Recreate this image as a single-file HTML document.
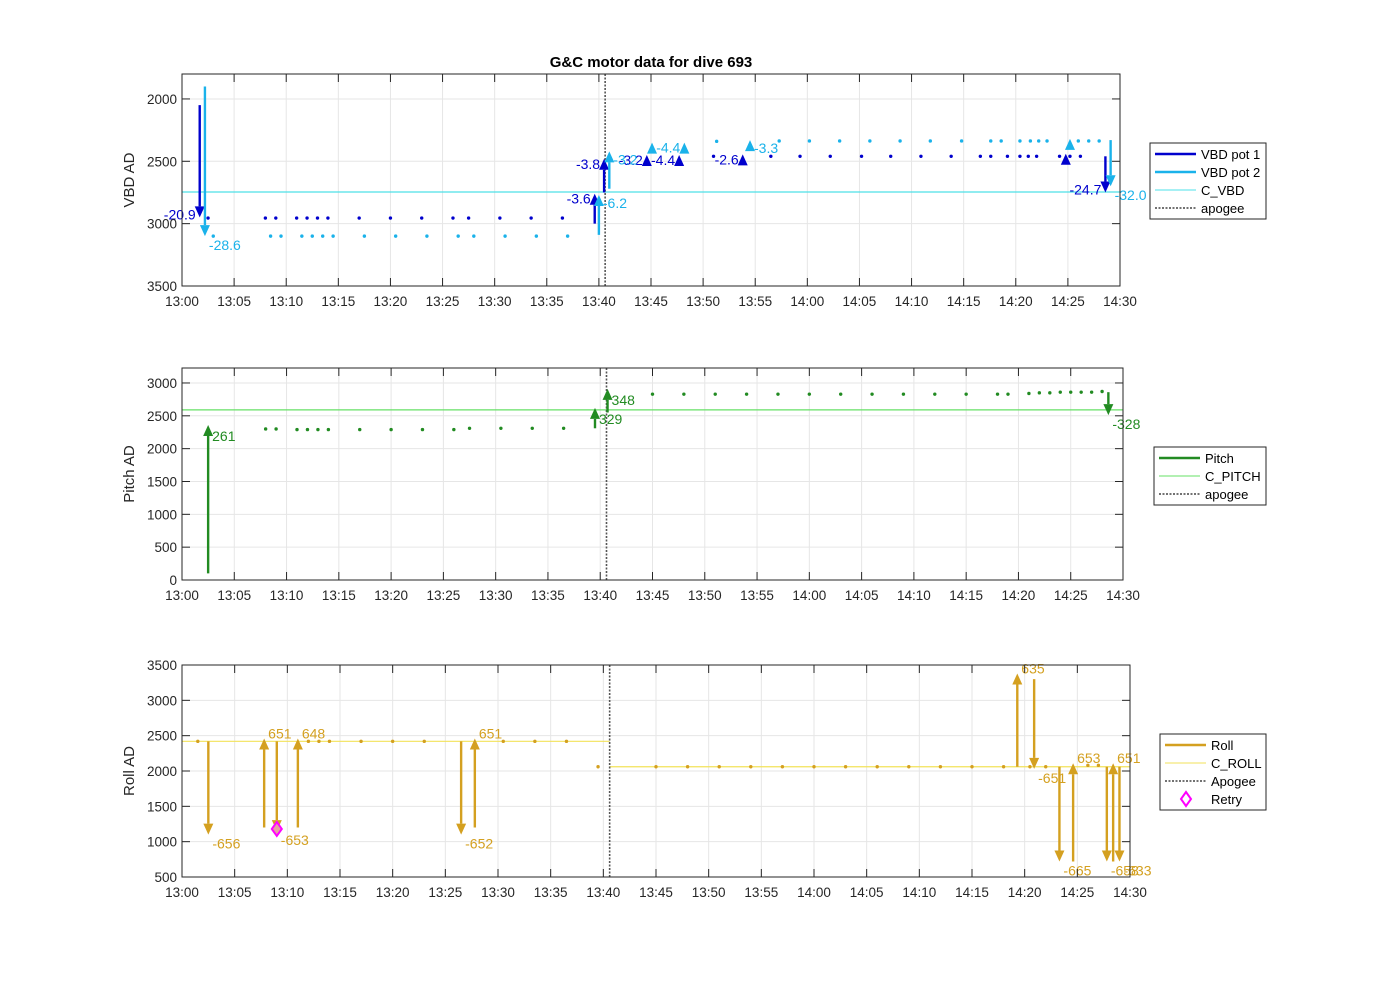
<!DOCTYPE html>
<html><head><meta charset="utf-8"><style>
body{margin:0;background:#fff;}
svg{display:block;font-family:"Liberation Sans",sans-serif;}
</style></head><body>
<svg id="chart" width="1400" height="986" viewBox="0 0 1400 986">
<rect width="1400" height="986" fill="#fff"/>
<text x="651" y="67" text-anchor="middle" font-size="15" font-weight="bold" fill="#000">G&amp;C motor data for dive 693</text>
<g id="g1"></g><g id="g2"></g><g id="g3"></g>
</svg>
<script>
// ---- data (minutes after 13:00) ----
const xTickLabels = ["13:00","13:05","13:10","13:15","13:20","13:25","13:30","13:35","13:40","13:45","13:50","13:55","14:00","14:05","14:10","14:15","14:20","14:25","14:30"];
const apogeeTime = 40.6;
// VBD panel
const vbdTicks = [2000,2500,3000,3500];
const pot1DotT = [2.5,8,9,11,12,13,14,17,20,23,26,27.5,30.5,33.5,36.5,51,56.5,59.3,62.2,65.2,68,70.9,73.8,76.6,77.6,79.2,80.4,81.2,82,84.2,85.2,86.2];
const pot1DotV = [2955,2955,2955,2955,2955,2955,2955,2955,2955,2955,2955,2955,2955,2955,2955,2460,2460,2460,2460,2460,2460,2460,2460,2460,2460,2460,2460,2460,2460,2460,2460,2460];
const pot2DotT = [3,8.5,9.5,11.5,12.5,13.5,14.5,17.5,20.5,23.5,26.5,28,31,34,37,51.3,57.3,60.2,63.1,66,68.9,71.8,74.8,77.6,78.6,80.4,81.4,82.2,83,86,87,88];
const pot2DotV = [3100,3100,3100,3100,3100,3100,3100,3100,3100,3100,3100,3100,3100,3100,3100,2340,2337,2337,2337,2337,2337,2337,2337,2337,2337,2337,2337,2337,2337,2337,2337,2337];
const pot1ArrT = [1.7,39.6,40.5,44.6,47.7,53.8,84.8,88.6];
const pot1ArrV0 = [2050,3000,2750,2470,2470,2460,2460,2460];
const pot1ArrV1 = [2950,2760,2480,2450,2450,2445,2440,2750];
const pot1Labels = ["-20.9","-3.6","-3.8","-3.2","-4.4","-2.6","","-24.7"];
const pot1Side = ["L","L","L","L","L","L","N","L"];
const pot2ArrT = [2.2,40,41,45.1,48.2,54.5,85.2,89.1];
const pot2ArrV0 = [1900,3090,2720,2360,2360,2350,2340,2330];
const pot2ArrV1 = [3100,2770,2420,2350,2350,2330,2320,2700];
const pot2Labels = ["-28.6","-6.2","-3.2","","-4.4","-3.3","","-32.0"];
const pot2Side = ["R","R","R","N","L","R","N","R"];
const cVbd = 2746;
// Pitch panel
const pitchTicks = [0,500,1000,1500,2000,2500,3000];
const pitchDotT = [8,9,11,12,13,14,17,20,23,26,27.5,30.5,33.5,36.5,45,48,51,54,57,60,63,66,69,72,75,78,79,81,82,83,84,85,86,87,88];
const pitchDotV = [2300,2300,2290,2290,2290,2290,2290,2290,2290,2290,2310,2310,2310,2310,2830,2830,2830,2830,2830,2830,2830,2830,2830,2830,2830,2830,2830,2840,2850,2850,2860,2860,2860,2860,2870];
const pitchArrT = [2.5,39.5,40.7,88.6];
const pitchArrV0 = [100,2310,2550,2860];
const pitchArrV1 = [2360,2620,2910,2510];
const pitchLabels = ["261","329","348","-328"];
const cPitch = 2590;
// Roll panel
const rollTicks = [500,1000,1500,2000,2500,3000,3500];
const rollDotT = [1.5,12,13,14,17,20,23,30.5,33.5,36.5,39.5,45,48,51,54,57,60,63,66,69,72,75,78,80.5,82,86,87];
const rollDotV = [2420,2420,2420,2420,2420,2420,2420,2420,2420,2420,2060,2060,2060,2060,2060,2060,2060,2060,2060,2060,2060,2060,2060,2060,2060,2080,2080];
const rollArrT = [2.5,7.8,9,11,26.5,27.8,79.3,80.9,83.3,84.6,87.8,88.4,89.0];
const rollArrV0 = [2420,1200,2420,1200,2420,1200,2060,3300,2060,720,2060,720,2060];
const rollArrV1 = [1100,2460,1150,2460,1100,2460,3380,2030,720,2110,720,2110,720];
const rollLabels = ["-656","651","-653","648","-652","651","635","-651","-665","653","-658","651","-633"];
const cRollBefore = 2420, cRollAfter = 2060;
const retryT = [9], retryV = [1180];

// ---- helpers ----
const NS="http://www.w3.org/2000/svg";
function mk(parent,tag,attrs){const e=document.createElementNS(NS,tag);for(const k in attrs)e.setAttribute(k,attrs[k]);parent.appendChild(e);return e;}
function panel(g,P,ticks){
  for(let i=0;i<xTickLabels.length;i++){const x=P.x(i*5);
    const l=mk(g,'line',{x1:x,x2:x,y1:P.top,y2:P.bot,stroke:'#e6e6e6','stroke-width':1});
    
    }
  ticks.forEach(v=>{const y=P.y(v);
    const l=mk(g,'line',{x1:P.left,x2:P.right,y1:y,y2:y,stroke:'#e6e6e6','stroke-width':1});
    
    });
}
function axes(g,P,ticks,ytitle,name){
  const r=mk(g,'rect',{x:P.left,y:P.top,width:P.right-P.left,height:P.bot-P.top,fill:'none',stroke:'#262626','stroke-width':1});
  
  
  for(let i=0;i<xTickLabels.length;i++){const x=P.x(i*5);
    mk(g,'line',{x1:x,x2:x,y1:P.bot,y2:P.bot-8,stroke:'#262626'});
    mk(g,'line',{x1:x,x2:x,y1:P.top,y2:P.top+8,stroke:'#262626'});
    const t=mk(g,'text',{x:x,y:P.bot+20,'text-anchor':'middle','font-size':13.5,fill:'#262626'});
    t.textContent=xTickLabels[i];
    
    }
  ticks.forEach(v=>{const y=P.y(v);
    mk(g,'line',{x1:P.left,x2:P.left+8,y1:y,y2:y,stroke:'#262626'});
    mk(g,'line',{x1:P.right,x2:P.right-8,y1:y,y2:y,stroke:'#262626'});
    const t=mk(g,'text',{x:P.left-5,y:y+5,'text-anchor':'end','font-size':13.5,fill:'#262626'});
    t.textContent=v;
    
    });
  const cy=(P.top+P.bot)/2;
  const yt=mk(g,'text',{x:134,y:cy,'text-anchor':'middle','font-size':15,fill:'#262626',transform:`rotate(-90 134 ${cy})`});
  yt.textContent=ytitle;
  
  
}
function dots(g,P,T,V,color,name){
  T.forEach((t,i)=>{const c=mk(g,'circle',{cx:P.x(t),cy:P.y(V[i]),r:1.7,fill:color});
    
    });
}
function arrow(g,P,t,v0,v1,color,label,side,name,upDy){
  const x=P.x(t),y0=P.y(v0),y1=P.y(v1);const dir=y1<y0?-1:1;
  const grp=mk(g,'g',{});
  
  
  const hb=y1-dir*11;
  if(Math.abs(y1-y0)>11) mk(grp,'line',{x1:x,x2:x,y1:y0,y2:hb,stroke:color,'stroke-width':2.4});
  mk(grp,'polygon',{points:`${x-5},${hb} ${x+5},${hb} ${x},${y1}`,fill:color});
  if(label&&side!=='N'){
    const ty = dir<0? y1+ (side==='L'?10:(upDy!==undefined?upDy:16)) : y1+ (side==='L'?2:14);
    const tx = side==='L'? x-4 : x+4;
    const tt=mk(grp,'text',{x:tx,y:ty,'text-anchor':side==='L'?'end':'start','font-size':14,fill:color});
    tt.textContent=label;
  }
}
function hline(g,P,v,color,name,t0,t1){
  const l=mk(g,'line',{x1:P.x(t0),x2:P.x(t1),y1:P.y(v),y2:P.y(v),stroke:color,'stroke-width':1.2});
  
  
}
function apogee(g,P,name){
  const x=P.x(apogeeTime);
  const l=mk(g,'line',{x1:x,x2:x,y1:P.top,y2:P.bot,stroke:'#555','stroke-width':1.6,'stroke-dasharray':'2,1.5'});
  
  
}
function legend(g,x,y,w,entries,name){
  const h=entries.length*18+4;
  const r=mk(g,'rect',{x:x,y:y,width:w,height:h,fill:'#fff',stroke:'#262626','stroke-width':1});
  
  
  entries.forEach((e,i)=>{const cy=y+11+i*18;
    const eg=mk(g,'g',{});
    
    
    if(e.type==='diamond') mk(eg,'polygon',{points:`${x+26},${cy-7} ${x+31},${cy} ${x+26},${cy+7} ${x+21},${cy}`,fill:'none',stroke:e.color,'stroke-width':2});
    else mk(eg,'line',{x1:x+5,x2:x+46,y1:cy,y2:cy,stroke:e.color,'stroke-width':e.w,'stroke-dasharray':e.dash||''});
    const t=mk(eg,'text',{x:x+51,y:cy+5,'font-size':13,fill:'#000'});t.textContent=e.label;});
}
function mkP(left,right,top,bot,vmin,vmax,rev){
  return {left,right,top,bot,x:t=>left+t*(right-left)/90,
    y:v=>rev? top+(v-vmin)/(vmax-vmin)*(bot-top) : bot-(v-vmin)/(vmax-vmin)*(bot-top)};
}
const C1='#0000cd',C2='#1ab2ea',CV='#4de0e8',CG='#228b22',CGL='#66e066',CR='#d4a020',CRL='#f2e25a';

// Panel 1
const P1=mkP(182,1120,74,286,1800,3500,true);
const g1=document.getElementById('g1');
panel(g1,P1,vbdTicks);
hline(g1,P1,cVbd,CV,'c-vbd-line',0,90);
apogee(g1,P1,'apogee-line-vbd');
dots(g1,P1,pot1DotT,pot1DotV,C1,'vbd-pot1-point');
dots(g1,P1,pot2DotT,pot2DotV,C2,'vbd-pot2-point');
pot1ArrT.forEach((t,i)=>arrow(g1,P1,t,pot1ArrV0[i],pot1ArrV1[i],C1,pot1Labels[i],pot1Side[i],'vbd-pot1-arrow'));
pot2ArrT.forEach((t,i)=>arrow(g1,P1,t,pot2ArrV0[i],pot2ArrV1[i],C2,pot2Labels[i],pot2Side[i],'vbd-pot2-arrow',13));
axes(g1,P1,vbdTicks,'VBD AD','vbd');
legend(g1,1150,143,116,[{label:'VBD pot 1',color:C1,w:2.4},{label:'VBD pot 2',color:C2,w:2.4},{label:'C_VBD',color:CV,w:1},{label:'apogee',color:'#444',w:1.5,dash:'2,1.5'}],'vbd-legend');

// Panel 2
const P2=mkP(182,1123,368,580,0,3228,false);
const g2=document.getElementById('g2');
panel(g2,P2,pitchTicks);
hline(g2,P2,cPitch,CGL,'c-pitch-line',0,90);
apogee(g2,P2,'apogee-line-pitch');
dots(g2,P2,pitchDotT,pitchDotV,CG,'pitch-point');
pitchArrT.forEach((t,i)=>arrow(g2,P2,t,pitchArrV0[i],pitchArrV1[i],CG,pitchLabels[i],'R','pitch-arrow',16));
axes(g2,P2,pitchTicks,'Pitch AD','pitch');
legend(g2,1154,447,112,[{label:'Pitch',color:CG,w:2.4},{label:'C_PITCH',color:CGL,w:1},{label:'apogee',color:'#444',w:1.5,dash:'2,1.5'}],'pitch-legend');

// Panel 3
const P3=mkP(182,1130,665,877,500,3500,false);
const g3=document.getElementById('g3');
panel(g3,P3,rollTicks);
hline(g3,P3,cRollBefore,CRL,'c-roll-line-before',0,apogeeTime);
hline(g3,P3,cRollAfter,CRL,'c-roll-line-after',apogeeTime,90);
apogee(g3,P3,'apogee-line-roll');
dots(g3,P3,rollDotT,rollDotV,CR,'roll-point');
rollArrT.forEach((t,i)=>arrow(g3,P3,t,rollArrV0[i],rollArrV1[i],CR,rollLabels[i],'R','roll-arrow',0));
retryT.forEach((t,i)=>{const x=P3.x(t),y=P3.y(retryV[i]);
  const d=mk(g3,'polygon',{points:`${x},${y-7} ${x+5},${y} ${x},${y+7} ${x-5},${y}`,fill:'#e8a0a0',stroke:'#ff00ff','stroke-width':2});
  
  });
axes(g3,P3,rollTicks,'Roll AD','roll');
legend(g3,1160,734,106,[{label:'Roll',color:CR,w:2.4},{label:'C_ROLL',color:CRL,w:1},{label:'Apogee',color:'#444',w:1.5,dash:'2,1.5'},{label:'Retry',color:'#ff00ff',type:'diamond'}],'roll-legend');
</script>
</body></html>
